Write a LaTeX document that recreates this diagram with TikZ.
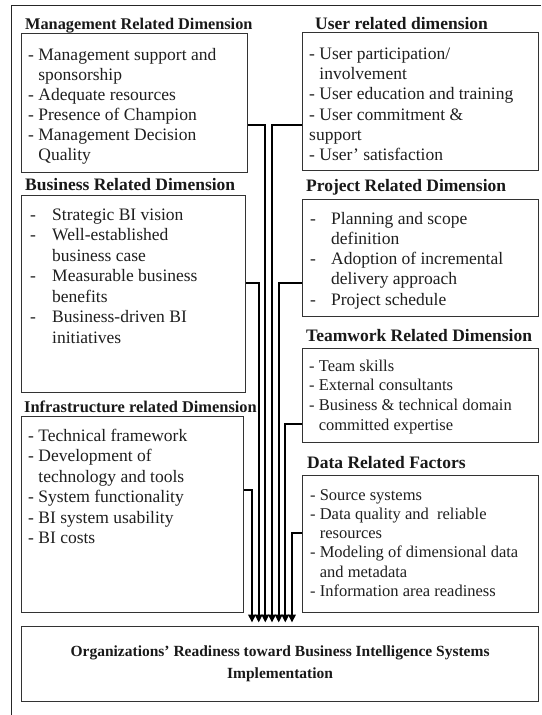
\documentclass[tikz,border=0pt]{standalone}
\usepackage{fontspec}
\setmainfont{Liberation Serif}
\usetikzlibrary{arrows.meta}

% list markers: wide dash column and matching indent, narrow hanging indent
\newcommand\wdash{\makebox[22pt][l]{-}}
\newcommand\windent{\hspace*{22pt}}
\newcommand\nindent{\phantom{- }}

\tikzset{
  panel/.style={draw=black!80, line width=1.2pt, anchor=north west, inner sep=0pt},
  heading/.style={anchor=base west, inner sep=0pt, text=black!90,
    font=\fontsize{17.5}{20}\selectfont\bfseries},
  items/.style={anchor=north west, inner sep=0pt, align=left, text=black!88,
    font=\fontsize{17.5}{20.3}\selectfont},
  smallitems/.style={items, font=\fontsize{16.5}{19.5}\selectfont},
  tap/.style={line width=1.2pt, draw=black},
  feed/.style={line width=2pt, draw=black, -{Triangle[width=7.5pt,length=8pt]},
    shorten >=3.5pt, shorten <=-0.6pt},
  frame/.style={line width=1.4pt, draw=black!85}
}

\begin{document}
\begin{tikzpicture}[x=1pt,y=-1pt]
\useasboundingbox (0,0) rectangle (541,715);
\fill[white] (0,0) rectangle (541,715);

% outer frame (top and left edges)
\draw[frame] (541,5.5) -- (11.5,5.5) -- (11.5,715);

% ---- boxes ----
\node[panel, minimum width=226pt, minimum height=139pt] (mgmt) at (21,33) {};
\node[panel, minimum width=236pt, minimum height=138pt] (user) at (302,32) {};
\node[panel, minimum width=224pt, minimum height=197pt] (bus) at (21,195) {};
\node[panel, minimum width=222pt, minimum height=196pt] (infra) at (21,416) {};
\node[panel, minimum width=236pt, minimum height=116.5pt] (proj) at (302,199) {};
\node[panel, minimum width=236pt, minimum height=94pt] (team) at (302,348) {};
\node[panel, minimum width=236pt, minimum height=137pt] (data) at (302,475) {};
\node[panel, minimum width=517pt, minimum height=75pt, align=center, text=black!90,
  font=\fontsize{15.5}{22}\selectfont\bfseries] (goal) at (21,626)
  {Organizations’ Readiness toward Business Intelligence Systems\\Implementation};

% ---- headings ----
\node[heading, font=\fontsize{16.3}{20}\selectfont\bfseries] (hMgmt) at (25,29) {Management Related Dimension};
\node[heading] (hUser) at (315,29) {User related dimension};
\node[heading] (hBus) at (25,190) {Business Related Dimension};
\node[heading, font=\fontsize{16.4}{20}\selectfont\bfseries] (hInfra) at (24,412) {Infrastructure related Dimension};
\node[heading] (hProj) at (306,191) {Project Related Dimension};
\node[heading] (hTeam) at (306,341) {Teamwork Related Dimension};
\node[heading] (hData) at (307,468) {Data Related Factors};

% ---- item lists ----
\node[items, font=\fontsize{17.5}{20}\selectfont] (iMgmt) at (28,46) {\strut- Management support and\\
  \nindent sponsorship\\
  - Adequate resources\\
  - Presence of Champion\\
  - Management Decision\\
  \nindent Quality};

\node[items] (iUser) at (309,44.8) {\strut- User participation/\\
  \nindent involvement\\
  - User education and training\\
  - User commitment \&\\
  support\\
  - User’ satisfaction};

\node[items, font=\fontsize{17.5}{20.5}\selectfont] (iBus) at (30,205.6) {\strut\wdash Strategic BI vision\\
  \wdash Well-established\\
  \windent business case\\
  \wdash Measurable business\\
  \windent benefits\\
  \wdash Business-driven BI\\
  \windent initiatives};

\node[items, font=\fontsize{17.5}{20.5}\selectfont] (iInfra) at (28,426.6) {\strut- Technical framework\\
  - Development of\\
  \nindent technology and tools\\
  - System functionality\\
  - BI system usability\\
  - BI costs};

\node[items, font=\fontsize{17.5}{20.2}\selectfont] (iProj) at (310,209.9) {\strut\makebox[21pt][l]{-}Planning and scope\\
  \hspace*{21pt}definition\\
  \makebox[21pt][l]{-}Adoption of incremental\\
  \hspace*{21pt}delivery approach\\
  \makebox[21pt][l]{-}Project schedule};

\node[smallitems, font=\fontsize{16.5}{19.7}\selectfont] (iTeam) at (309,357.2) {\strut- Team skills\\
  - External consultants\\
  - Business \& technical domain\\
  \nindent committed expertise};

\node[smallitems, font=\fontsize{16.5}{19.2}\selectfont] (iData) at (310,486.6) {\strut- Source systems\\
  - Data quality and\ \ reliable\\
  \nindent resources\\
  - Modeling of dimensional data\\
  \nindent and metadata\\
  - Information area readiness};

% ---- feeder lines into the readiness box ----
\coordinate (jInfra) at (252,490);
\coordinate (jBus)   at (258.7,283);
\coordinate (jMgmt)  at (265.3,125);
\coordinate (jUser)  at (272,125);
\coordinate (jProj)  at (278.7,283);
\coordinate (jTeam)  at (285.3,424);
\coordinate (jData)  at (292,533);

\foreach \src/\side/\j in {infra/east/jInfra, bus/east/jBus, mgmt/east/jMgmt,
    user/west/jUser, proj/west/jProj, team/west/jTeam, data/west/jData} {
  \draw[tap] (\src.\side |- \j) -- (\j);
  \draw[feed] (\j) -- (\j |- goal.north);
}
\end{tikzpicture}
\end{document}
